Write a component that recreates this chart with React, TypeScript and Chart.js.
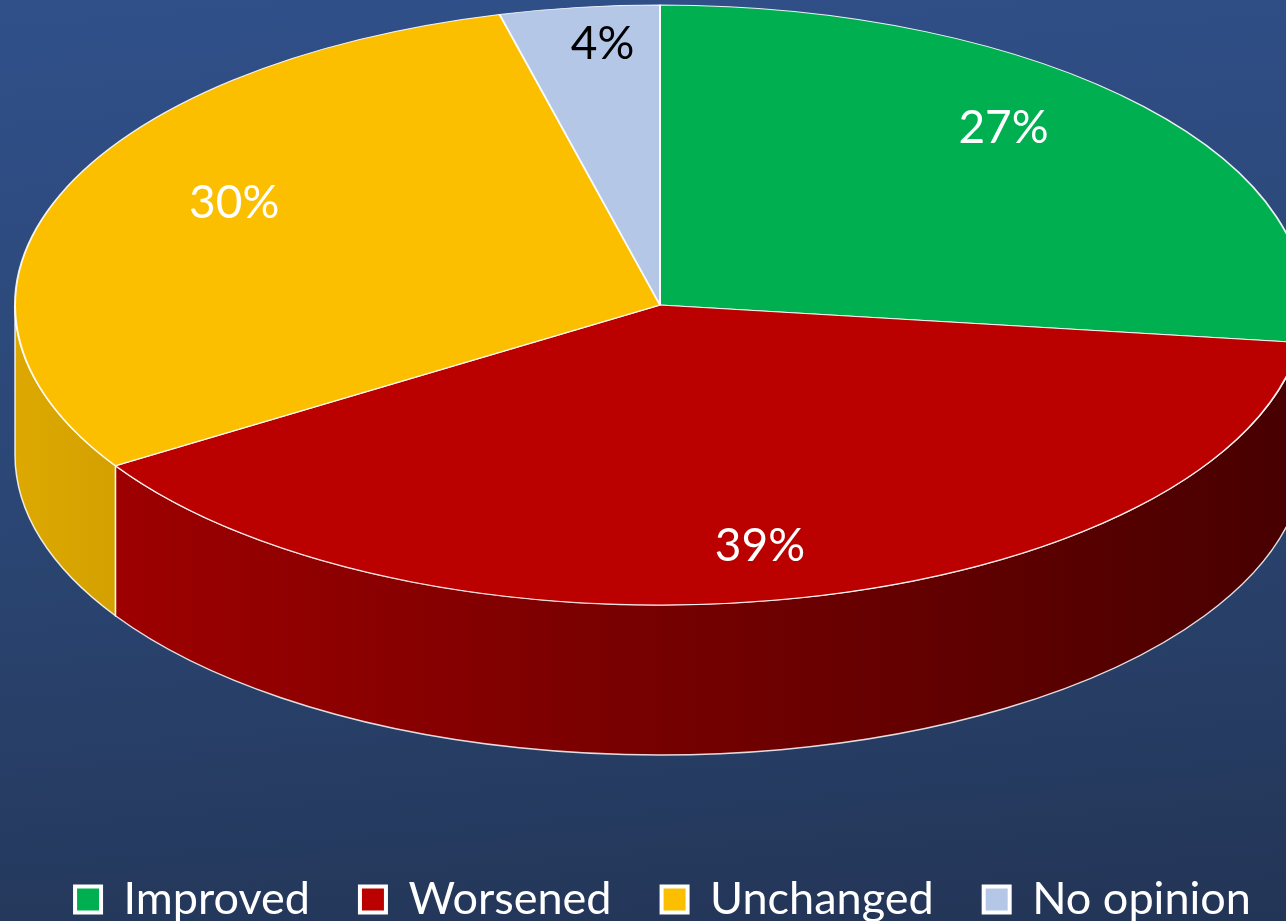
import React, { useEffect, useRef } from "react";
import { Chart, registerables } from "chart.js";

Chart.register(...registerables);

const categories = ["Improved", "Worsened", "Unchanged", "No opinion"];
const values = [27, 39, 30, 4];
const valueLabels = ["27%", "39%", "30%", "4%"];
const sliceColors = ["#00b050", "#bb0000", "#fbbf00", "#b4c7e7"];
const labelColors = ["#ffffff", "#ffffff", "#ffffff", "#000000"];

const W = 1286;
const H = 921;
const CX = 660;
const CY = 305;
const RX = 645;
const RY = 300;
const DEPTH = 150;
const FONT = "Lato, 'Open Sans', sans-serif";

function shade(hex: string, f: number): string {
  const n = parseInt(hex.slice(1), 16);
  const r = Math.round(((n >> 16) & 255) * f);
  const g = Math.round(((n >> 8) & 255) * f);
  const b = Math.round((n & 255) * f);
  return `rgb(${r},${g},${b})`;
}

const pie3d = {
  id: "pie3d",
  beforeDatasetsDraw(chart: any) {
    const ctx: CanvasRenderingContext2D = chart.ctx;
    const arcs = chart.getDatasetMeta(0).data as any[];
    const TWO_PI = Math.PI * 2;
    arcs.forEach((arc, i) => {
      const { startAngle, endAngle } = arc.getProps(["startAngle", "endAngle"], true);
      const color = sliceColors[i];
      for (let k = -1; k <= 2; k++) {
        const lo = Math.max(startAngle, k * TWO_PI);
        const hi = Math.min(endAngle, k * TWO_PI + Math.PI);
        if (hi <= lo) continue;
        const grad = ctx.createLinearGradient(CX - RX, 0, CX + RX, 0);
        grad.addColorStop(0, shade(color, 0.88));
        grad.addColorStop(1, shade(color, 0.38));
        ctx.save();
        ctx.beginPath();
        ctx.ellipse(CX, CY, RX, RY, 0, lo, hi, false);
        ctx.lineTo(CX + RX * Math.cos(hi), CY + DEPTH + RY * Math.sin(hi));
        ctx.ellipse(CX, CY + DEPTH, RX, RY, 0, hi, lo, true);
        ctx.closePath();
        ctx.fillStyle = grad;
        ctx.fill();
        ctx.strokeStyle = "rgba(255,255,255,0.85)";
        ctx.lineWidth = 1.5;
        ctx.stroke();
        ctx.restore();
      }
    });
    const a0 = arcs[0];
    ctx.save();
    ctx.translate(CX, CY);
    ctx.scale(1, RY / RX);
    ctx.translate(-a0.x, -a0.y);
  },
  afterDatasetsDraw(chart: any) {
    const ctx: CanvasRenderingContext2D = chart.ctx;
    ctx.restore();
    const arcs = chart.getDatasetMeta(0).data as any[];
    ctx.save();
    ctx.font = `46px ${FONT}`;
    ctx.textAlign = "center";
    ctx.textBaseline = "middle";
    arcs.forEach((arc, i) => {
      const { startAngle, endAngle } = arc.getProps(["startAngle", "endAngle"], true);
      const mid = (startAngle + endAngle) / 2;
      const x = CX + RX * 0.71 * Math.cos(mid);
      const y = CY + RY * 0.85 * Math.sin(mid) - 8;
      ctx.fillStyle = labelColors[i];
      ctx.fillText(valueLabels[i], x, y);
    });
    ctx.restore();
  },
};

export default function App() {
  const canvasRef = useRef<HTMLCanvasElement | null>(null);

  useEffect(() => {
    const canvas = canvasRef.current;
    if (!canvas) return;
    const chart = new Chart(canvas, {
      type: "pie",
      data: {
        labels: categories,
        datasets: [
          {
            data: values,
            backgroundColor: sliceColors,
            borderColor: "rgba(255,255,255,0.9)",
            borderWidth: 2,
            radius: RX,
            clip: false,
          } as any,
        ],
      },
      options: {
        responsive: false,
        animation: false,
        events: [],
        layout: { padding: { top: 0, left: 20, right: -20, bottom: -11 } },
        plugins: {
          tooltip: { enabled: false },
          legend: {
            position: "bottom",
            align: "center",
            labels: {
              color: "#ffffff",
              font: { family: FONT, size: 45 },
              boxWidth: 26,
              boxHeight: 26,
              padding: 50,
              generateLabels: (c: any) => {
                const base = (Chart as any).overrides.pie.plugins.legend.labels.generateLabels(c);
                return base.map((it: any) => ({
                  ...it,
                  strokeStyle: "#ffffff",
                  lineWidth: 4,
                  fontColor: "#ffffff",
                }));
              },
            },
          },
        },
      },
      plugins: [pie3d],
    });
    return () => chart.destroy();
  }, []);

  return (
    <div
      style={{
        position: "absolute",
        left: 0,
        top: 0,
        width: W,
        height: H,
        background:
          "linear-gradient(175deg, #30508a 0%, #2b4674 50%, #233556 100%)",
      }}
    >
      <canvas ref={canvasRef} width={W} height={H} style={{ display: "block" }} />
    </div>
  );
}
